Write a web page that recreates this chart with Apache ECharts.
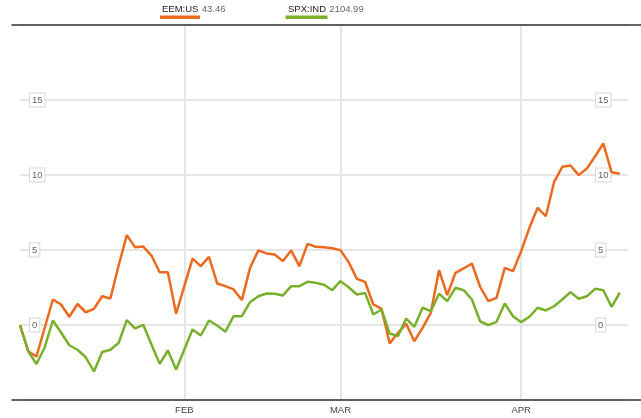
<!DOCTYPE html>
<html>
<head>
<meta charset="utf-8">
<title>EEM:US vs SPX:IND</title>
<script src="https://cdn.jsdelivr.net/npm/echarts@6/dist/echarts.min.js"></script>
<style>
  html, body { margin: 0; padding: 0; background: #fff; }
  #chart { width: 641px; height: 418px; }
</style>
</head>
<body>
<div id="chart"></div>
<script>
// trading days, Jan 2 -> Apr 20
const dates = [
  '01-02', '01-05', '01-06', '01-07', '01-08', '01-09', '01-12', '01-13', '01-14', '01-15',
  '01-16', '01-20', '01-21', '01-22', '01-23', '01-26', '01-27', '01-28', '01-29', '01-30',
  '02-02', '02-03', '02-04', '02-05', '02-06', '02-09', '02-10', '02-11', '02-12', '02-13',
  '02-17', '02-18', '02-19', '02-20', '02-23', '02-24', '02-25', '02-26', '02-27',
  '03-02', '03-03', '03-04', '03-05', '03-06', '03-09', '03-10', '03-11', '03-12', '03-13',
  '03-16', '03-17', '03-18', '03-19', '03-20', '03-23', '03-24', '03-25', '03-26', '03-27',
  '03-30', '03-31',
  '04-01', '04-02', '04-06', '04-07', '04-08', '04-09', '04-10', '04-13', '04-14', '04-15',
  '04-16', '04-17', '04-20'
]
const monthLabels = { '02-02': 'FEB', '03-02': 'MAR', '04-01': 'APR' }

const seriesNames = ['EEM:US', 'SPX:IND']
const lastValues = ['43.46', '2104.99']
const colors = ['#eb6a1e', '#79b02b']

// % change since start
const eem = [
  0, -1.75, -2.1, -0.2, 1.7, 1.37, 0.55, 1.4, 0.85, 1.08,
  1.92, 1.77, 3.95, 5.99, 5.19, 5.23, 4.63, 3.52, 3.52, 0.75,
  2.59, 4.43, 3.92, 4.54, 2.77, 2.59, 2.37, 1.66, 3.81, 4.97,
  4.77, 4.7, 4.26, 4.97, 3.92, 5.41, 5.21, 5.19, 5.12,
  4.99, 4.19, 3.08, 2.88, 1.37, 1.08, -1.23, -0.52, 0.08, -1.08,
  -0.19, 0.81, 3.65, 1.99, 3.48, 3.77, 4.1, 2.55, 1.59, 1.81,
  3.81, 3.59,
  4.92, 6.48, 7.81, 7.25, 9.52, 10.55, 10.63, 9.99, 10.43, 11.25,
  12.1, 10.19, 10.08
]
const spx = [
  0, -1.75, -2.6, -1.5, 0.3, -0.5, -1.35, -1.65, -2.15, -3.1,
  -1.8, -1.65, -1.2, 0.32, -0.23, 0.01, -1.3, -2.59, -1.7, -2.97,
  -1.63, -0.3, -0.7, 0.3, -0.03, -0.45, 0.59, 0.59, 1.52, 1.92,
  2.1, 2.08, 1.97, 2.59, 2.59, 2.88, 2.81, 2.68, 2.32,
  2.92, 2.52, 2.03, 2.14, 0.7, 1.03, -0.57, -0.74, 0.43, -0.12,
  1.15, 0.92, 2.08, 1.59, 2.48, 2.32, 1.7, 0.25, -0.01, 0.21,
  1.43, 0.59,
  0.19, 0.55, 1.15, 0.97, 1.25, 1.7, 2.19, 1.75, 1.92, 2.41,
  2.32, 1.21, 2.15
]

// one empty slot so the grid runs a little past the last day
const categories = dates.concat([''])

const FONT = 'Liberation Sans, Arial, sans-serif'
const gridColor = '#e6e6e6'

const boxLabel = {
  inside: true,
  fontSize: 9.5,
  fontFamily: FONT,
  color: '#666',
  backgroundColor: '#fff',
  borderColor: '#d8d8d8',
  borderWidth: 1,
  padding: [2, 2, 1, 2],
  showMinLabel: false,
  showMaxLabel: false
}

const isMonthStart = (i, v) => !!monthLabels[v]

const chart = echarts.init(document.getElementById('chart'))

chart.setOption({
  animation: false,
  grid: [
    { left: 20, right: 13, top: 25, bottom: 18 },
    { left: 12, right: 0, top: 25, bottom: 18 }
  ],
  xAxis: [
    {
      type: 'category',
      gridIndex: 0,
      data: categories,
      boundaryGap: false,
      axisLine: { show: false },
      axisTick: { show: false },
      axisLabel: {
        interval: isMonthStart,
        formatter: (v) => monthLabels[v] || '',
        margin: 5,
        fontSize: 9.5,
        fontFamily: FONT,
        color: '#444'
      },
      splitLine: { show: true, interval: isMonthStart, lineStyle: { color: gridColor, width: 2 } }
    },
    // frame lines, a bit wider than the plot
    {
      type: 'value', gridIndex: 1, position: 'bottom', min: 0, max: 1,
      axisLine: { lineStyle: { color: '#333', width: 1.5 } },
      axisTick: { show: false }, axisLabel: { show: false }, splitLine: { show: false }
    },
    {
      type: 'value', gridIndex: 1, position: 'top', min: 0, max: 1,
      axisLine: { lineStyle: { color: '#333', width: 1.5 } },
      axisTick: { show: false }, axisLabel: { show: false }, splitLine: { show: false }
    }
  ],
  yAxis: [
    {
      type: 'value', gridIndex: 0, position: 'left',
      min: -5, max: 20, interval: 5,
      axisLine: { show: false },
      axisTick: { show: false },
      axisLabel: Object.assign({ margin: 10 }, boxLabel),
      splitLine: { lineStyle: { color: gridColor, width: 2 } }
    },
    {
      type: 'value', gridIndex: 0, position: 'right',
      min: -5, max: 20, interval: 5,
      axisLine: { show: false },
      axisTick: { show: false },
      axisLabel: Object.assign({ margin: 32, align: 'left' }, boxLabel),
      splitLine: { show: false }
    },
    { type: 'value', gridIndex: 1, min: 0, max: 1, show: false }
  ],
  series: [
    {
      name: seriesNames[0],
      type: 'line',
      data: eem,
      showSymbol: false,
      lineStyle: { color: colors[0], width: 2.5 },
      itemStyle: { color: colors[0] },
      z: 3
    },
    {
      name: seriesNames[1],
      type: 'line',
      data: spx,
      showSymbol: false,
      lineStyle: { color: colors[1], width: 2.5 },
      itemStyle: { color: colors[1] },
      z: 4
    }
  ],
  // legend: name + last value, colour bar underneath
  graphic: [
    {
      type: 'text', x: 162, y: 9,
      style: {
        text: '{n|' + seriesNames[0] + '} {v|' + lastValues[0] + '}',
        verticalAlign: 'middle',
        rich: {
          n: { fontSize: 9.5, fontFamily: FONT, fill: '#222' },
          v: { fontSize: 9.5, fontFamily: FONT, fill: '#666' }
        }
      }
    },
    { type: 'rect', shape: { x: 160, y: 15.5, width: 40, height: 3.5 }, style: { fill: colors[0] } },
    {
      type: 'text', x: 288, y: 9,
      style: {
        text: '{n|' + seriesNames[1] + '} {v|' + lastValues[1] + '}',
        verticalAlign: 'middle',
        rich: {
          n: { fontSize: 9.5, fontFamily: FONT, fill: '#222' },
          v: { fontSize: 9.5, fontFamily: FONT, fill: '#666' }
        }
      }
    },
    { type: 'rect', shape: { x: 285.5, y: 15.5, width: 42, height: 3.5 }, style: { fill: colors[1] } }
  ]
})
</script>
</body>
</html>
